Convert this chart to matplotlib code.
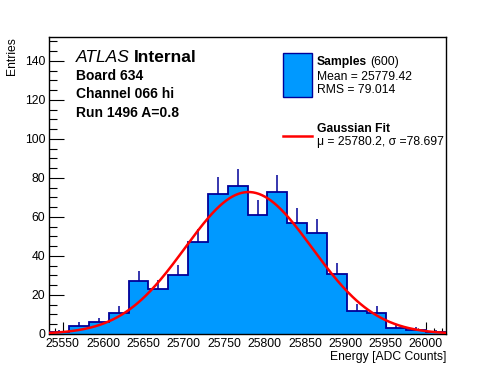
import numpy as np
import matplotlib
matplotlib.use("Agg")
import matplotlib.pyplot as plt
from matplotlib.ticker import MultipleLocator
from matplotlib.patches import Rectangle
from matplotlib.lines import Line2D

# ---- data ----
x_min, x_max = 25533.4, 26024.8
counts = [1, 4, 6, 11, 27, 23, 30, 47, 72, 76, 61, 73, 57, 52, 31, 12, 11, 3, 2, 1]
fit_mu = 25780.2
fit_sigma = 78.697
fit_amp = 72.8
y_max = 152.3
x_ticks = [25550, 25600, 25650, 25700, 25750, 25800, 25850, 25900, 25950, 26000]
y_ticks = [0, 20, 40, 60, 80, 100, 120, 140]
info_lines = ["Board 634", "Channel 066 hi", "Run 1496 A=0.8"]
legend_samples = ("Samples", "(600)", "Mean = 25779.42", "RMS = 79.014")
legend_fit = ("Gaussian Fit", "\u03bc = 25780.2, \u03c3 =78.697")

plt.rcParams['font.family'] = ['Liberation Sans', 'DejaVu Sans']

W, H = 496, 372
fig = plt.figure(figsize=(W / 100, H / 100), dpi=100)
ax = fig.add_axes([49.3 / W, 1 - 334 / H, (446 - 49.3) / W, (334 - 37) / H])

n = len(counts)
edges = np.linspace(x_min, x_max, n + 1)
centers = 0.5 * (edges[:-1] + edges[1:])
ax.stairs(counts, edges, fill=True, color='#0099ff', zorder=2)
ax.stairs(counts, edges, fill=False, color='#000099', lw=1.3, zorder=3)
cnt = np.array(counts, dtype=float)
ax.vlines(centers, cnt, cnt + np.sqrt(cnt), color='#000099', lw=1.1, zorder=3)

xs = np.linspace(x_min, x_max, 400)
ys = fit_amp * np.exp(-0.5 * ((xs - fit_mu) / fit_sigma) ** 2)
ax.plot(xs, ys, color='#ff0000', lw=1.8, zorder=4)

ax.set_xlim(x_min, x_max)
ax.set_ylim(0, y_max)
ax.set_xticks(x_ticks)
ax.set_yticks(y_ticks)
ax.xaxis.set_minor_locator(MultipleLocator(10))
ax.yaxis.set_minor_locator(MultipleLocator(5))
ax.tick_params(which='both', direction='in', top=False, right=False, labelsize=8.7, pad=3)
ax.tick_params(axis='x', which='major', length=9, width=0.8)
ax.tick_params(axis='x', which='minor', length=4.5, width=0.8)
ax.tick_params(axis='y', which='major', length=11, width=0.8)
ax.tick_params(axis='y', which='minor', length=5.5, width=0.8)
for s in ax.spines.values():
    s.set_linewidth(1.0)

fig.text(446 / W, 1 - 357 / H, "Energy [ADC Counts]", ha='right', va='center', fontsize=8.7)
fig.text(12 / W, 1 - 37 / H, "Entries", ha='center', va='top', rotation=90, fontsize=8.7)

# ATLAS label
ta = fig.text(76 / W, 1 - 58 / H, "ATLAS", style='italic', fontsize=12.5, ha='left', va='center')
fig.canvas.draw()
bba = ta.get_window_extent()
fig.text((bba.x1 + 4) / W, 1 - 58 / H, "Internal", weight='bold', fontsize=12.5, ha='left', va='center')
for i, t in enumerate(info_lines):
    fig.text(76 / W, 1 - (76 + 18.3 * i) / H, t, weight='bold', fontsize=10, ha='left', va='center')

# legend
fig.patches.append(Rectangle((283.3 / W, 1 - 96.7 / H), 28.4 / W, 43.4 / H,
                             transform=fig.transFigure, facecolor='#0099ff',
                             edgecolor='#000099', lw=1.0))
t1 = fig.text(317 / W, 1 - 62 / H, legend_samples[0], weight='bold', fontsize=8.7, ha='left', va='center')
fig.canvas.draw()
bb = t1.get_window_extent()
fig.text((bb.x1 + 3) / W, 1 - 62 / H, legend_samples[1], fontsize=8.7, ha='left', va='center')
fig.text(317 / W, 1 - 76.5 / H, legend_samples[2], fontsize=8.7, ha='left', va='center')
fig.text(317 / W, 1 - 90 / H, legend_samples[3], fontsize=8.7, ha='left', va='center')
fig.lines.append(Line2D([283.3 / W, 311.7 / W], [1 - 135.7 / H, 1 - 135.7 / H],
                        transform=fig.transFigure, color='#ff0000', lw=1.8))
fig.text(317 / W, 1 - 129 / H, legend_fit[0], weight='bold', fontsize=8.7, ha='left', va='center')
fig.text(317 / W, 1 - 142 / H, legend_fit[1], fontsize=8.7, ha='left', va='center')

fig.savefig("out.png", dpi=100)
